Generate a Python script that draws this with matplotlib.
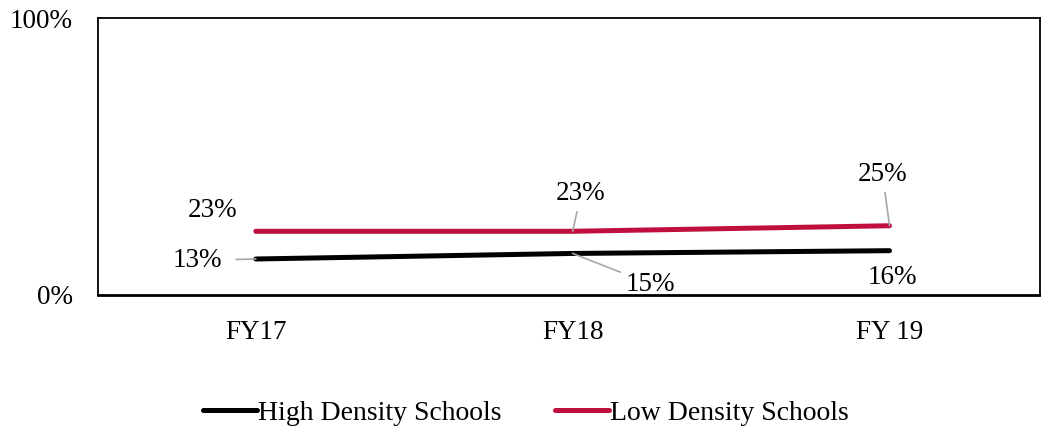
import matplotlib
matplotlib.use("Agg")
import matplotlib.pyplot as plt

plt.rcParams['font.family'] = ['Liberation Serif', 'DejaVu Serif']

years = ["FY17", "FY18", "FY 19"]
high_density = [0.13, 0.15, 0.16]
low_density = [0.23, 0.23, 0.25]
series_names = ["High Density Schools", "Low Density Schools"]
colors = ["#000000", "#C00F3F"]

FS = 19.5

fig = plt.figure(figsize=(10.41, 4.32), dpi=100)
ax = fig.add_axes([98 / 1041, 1 - 295 / 432, (1040 - 98) / 1041, (295 - 18) / 432])

x = list(range(len(years)))
for vals, name, c in zip([high_density, low_density], series_names, colors):
    ax.plot(x, vals, color=c, lw=3.6, solid_capstyle="round", label=name, zorder=3)

ax.set_xlim(-0.498, 2.475)
ax.set_ylim(0, 1)
ax.set_yticks([0, 1])
ax.set_yticklabels(["0%", "100%"])
ax.set_xticks(x)
ax.set_xticklabels(years)
ax.tick_params(axis="both", length=0, labelsize=FS)
ax.tick_params(axis="x", pad=18)
ax.tick_params(axis="y", pad=18)
for side in ["top", "left", "right"]:
    ax.spines[side].set_linewidth(1.3)
ax.spines["bottom"].set_linewidth(2)

# data labels with leader lines (offsets in points)
label_specs = [
    # (series values, index, text offset, leader gap from text or None)
    (low_density, 0, (-31, 15), None),
    (high_density, 0, (-42, -1), 8),
    (low_density, 1, (6, 27), 2),
    (high_density, 1, (56, -22), 2),
    (low_density, 2, (-5, 37), 2),
    (high_density, 2, (2, -19), None),
]
for vals, i, off, gap in label_specs:
    arrow = None
    if gap is not None:
        arrow = dict(arrowstyle="-", color="#A6A6A6", lw=1.2, shrinkA=gap, shrinkB=0)
    ax.annotate(f"{round(vals[i] * 100):d}%", xy=(i, vals[i]), xytext=off,
                textcoords="offset points", ha="center", va="center", fontsize=FS,
                arrowprops=arrow, zorder=4)

fig.legend(loc="center", bbox_to_anchor=(526 / 1041, 1 - 413 / 432), ncol=2,
           frameon=False, fontsize=20, handlelength=1.95, handletextpad=0.05,
           columnspacing=1.9)

fig.savefig("out.png", dpi=100)
